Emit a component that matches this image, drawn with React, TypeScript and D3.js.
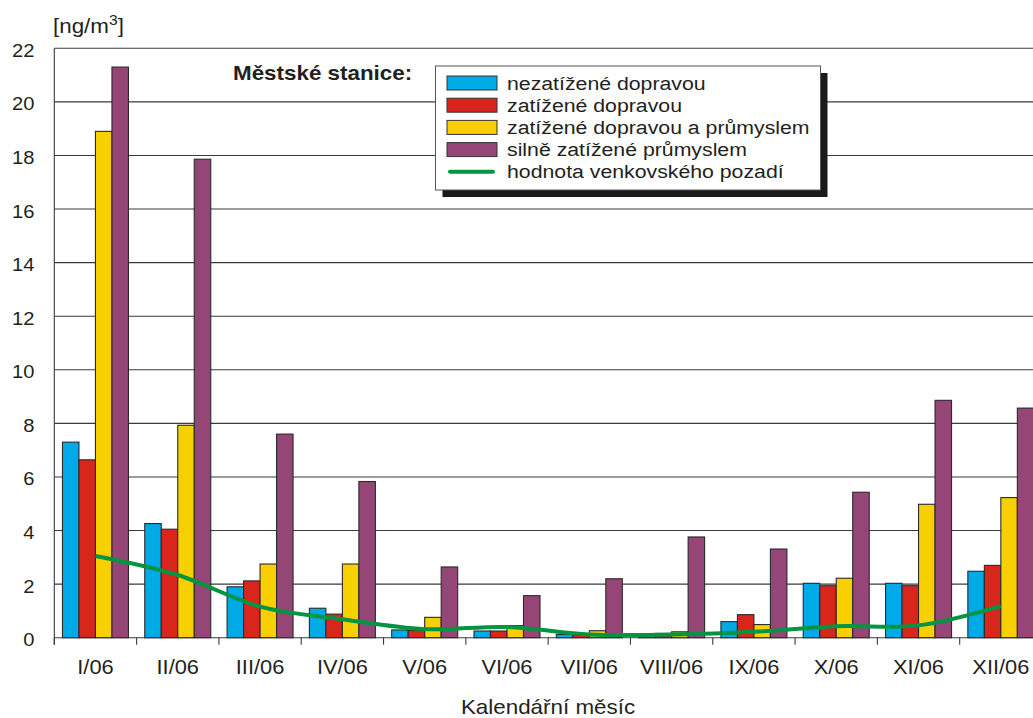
import React from "react";
import * as d3 from "d3";

const months = ["I/06", "II/06", "III/06", "IV/06", "V/06", "VI/06", "VII/06", "VIII/06", "IX/06", "X/06", "XI/06", "XII/06"];
const seriesNames = ["nezatížené dopravou", "zatížené dopravou", "zatížené dopravou a průmyslem", "silně zatížené průmyslem"];
const nezatizene = [7.3, 4.26, 1.9, 1.1, 0.29, 0.25, 0.12, 0.12, 0.6, 2.03, 2.03, 2.48];
const zatizene = [6.64, 4.05, 2.12, 0.88, 0.28, 0.25, 0.1, 0.16, 0.86, 1.94, 1.94, 2.7];
const zatizenePrumysl = [18.9, 7.93, 2.75, 2.75, 0.76, 0.45, 0.26, 0.22, 0.49, 2.22, 4.98, 5.23];
const silnePrumysl = [21.3, 17.86, 7.6, 5.83, 2.64, 1.57, 2.2, 3.76, 3.31, 5.43, 8.86, 8.57];
const pozadi = [3.05, 2.34, 1.16, 0.69, 0.32, 0.4, 0.12, 0.12, 0.22, 0.43, 0.46, 1.18];
const lineName = "hodnota venkovského pozadí";
const yTicks = [0, 2, 4, 6, 8, 10, 12, 14, 16, 18, 20, 22];
const colors = ["#00aae6", "#d9261c", "#f8cf00", "#954677"];
const lineColor = "#009540";

const W = 1033, H = 718;
const L = 54.3, TOP = 48.3, BOT = 637.7, R = 1042;
const FONT = "'Liberation Sans', Arial, Helvetica, sans-serif";
const INK = "#231f20";
const SX = 1.12;

function T({ x, y, anchor = "start", size = 18, weight = "normal", children }: any) {
  return (
    <text transform={`translate(${x},${y}) scale(${SX},1)`} textAnchor={anchor} fontSize={size} fontWeight={weight} fontFamily={FONT} fill={INK}>
      {children}
    </text>
  );
}

export default function App() {
  const data = [nezatizene, zatizene, zatizenePrumysl, silnePrumysl];
  const x0 = d3.scaleBand<string>().domain(months).range([L, R]).paddingInner(0).paddingOuter(0);
  const x1 = d3.scaleBand<number>().domain([0, 1, 2, 3]).range([0, x0.bandwidth()]).paddingInner(0).paddingOuter(0.494);
  const y = d3.scaleLinear().domain([0, 22]).range([BOT, TOP]);
  const line = d3.line<number>()
    .x((_, i) => (x0(months[i]) as number) + x0.bandwidth() / 2)
    .y((d) => y(d))
    .curve(d3.curveCardinal.tension(0));

  const legX = 435.5, legY = 66, legW = 385, legH = 124;
  const rowY = (i: number) => 83 + 22.2 * i;

  return (
    <svg width={W} height={H} style={{ position: "absolute", left: 0, top: 0, display: "block", background: "#fff" }}>
      <rect x={0} y={0} width={W} height={H} fill="#fff" />
      {yTicks.map((t) => (
        <line key={t} x1={L} x2={R} y1={y(t)} y2={y(t)} stroke="#3a3a3a" strokeWidth={1.1} />
      ))}
      {yTicks.map((t) => (
        <T key={"l" + t} x={34.5} y={y(t) + 8.5} anchor="end" size={18}>{t}</T>
      ))}
      <line x1={L} x2={L} y1={TOP} y2={BOT + 7} stroke="#3a3a3a" strokeWidth={1.1} />
      {months.map((m) => (
        <line key={"t" + m} x1={x0(m) as number} x2={x0(m) as number} y1={BOT} y2={BOT + 7} stroke="#3a3a3a" strokeWidth={1.1} />
      ))}
      <T x={233} y={80} size={20} weight="bold">Městské stanice:</T>
      <rect x={legX + 7} y={legY + 7} width={legW} height={legH} fill="#1a1a1a" />
      <rect x={legX} y={legY} width={legW} height={legH} fill="#fff" stroke="#555" strokeWidth={1} />
      {seriesNames.map((s, i) => (
        <g key={s}>
          <rect x={447} y={rowY(i) - 7} width={50} height={14} fill={colors[i]} stroke="#333" strokeWidth={1} />
          <T x={507} y={rowY(i) + 6.5} size={19}>{s}</T>
        </g>
      ))}
      <line x1={450} x2={493} y1={rowY(4)} y2={rowY(4)} stroke={lineColor} strokeWidth={4} strokeLinecap="round" />
      <T x={507} y={rowY(4) + 6.5} size={19}>{lineName}</T>
      {months.map((m, i) => (
        <g key={"g" + m} transform={`translate(${x0(m)},0)`}>
          {data.map((series, s) => (
            <rect key={s} x={x1(s) as number} y={y(series[i])} width={x1.bandwidth()} height={BOT - y(series[i])}
              fill={colors[s]} stroke="#2a2a2a" strokeWidth={1.1} />
          ))}
        </g>
      ))}
      <path d={line(pozadi) as string} fill="none" stroke={lineColor} strokeWidth={4} />
      {months.map((m) => (
        <T key={"x" + m} x={(x0(m) as number) + x0.bandwidth() / 2} y={674} anchor="middle" size={19.5}>{m}</T>
      ))}
      <T x={548} y={714} anchor="middle" size={20}>Kalendářní měsíc</T>
      <text transform={`translate(53,33) scale(${SX},1)`} fontSize={20} fontFamily={FONT} fill={INK}>
        [ng/m<tspan fontSize={14} dy={-8}>3</tspan><tspan dy={8}>]</tspan>
      </text>
    </svg>
  );
}
